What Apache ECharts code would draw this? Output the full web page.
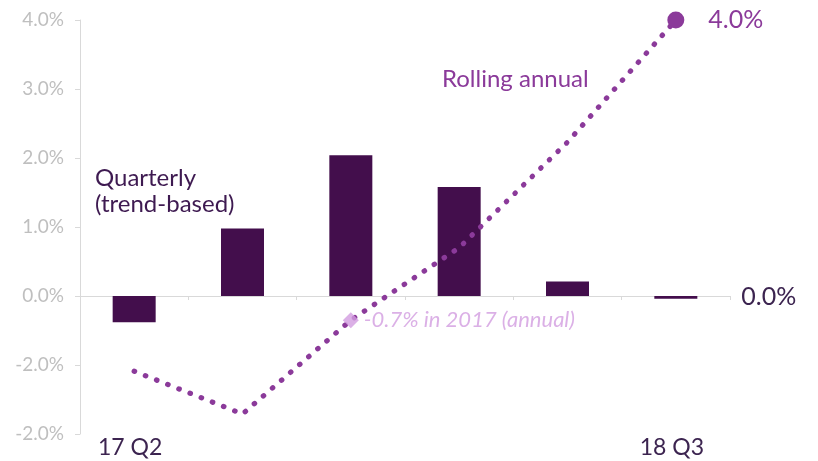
<!DOCTYPE html>
<html><head><meta charset="utf-8">
<script src="https://cdn.jsdelivr.net/npm/echarts@6/dist/echarts.min.js"></script>
<style>html,body{margin:0;padding:0;background:#fff}#c{width:818px;height:461px}</style>
</head><body><div id="c"></div>
<script>
const categories = ['17 Q2', '17 Q3', '17 Q4', '18 Q1', '18 Q2', '18 Q3'];
const xTickLabels = ['17 Q2', '', '', '', '', '18 Q3'];
const quarterlyValues = [-0.38, 0.98, 2.04, 1.58, 0.21, -0.04];
const rollingAnnualValues = [-1.09, -1.71, -0.35, 0.70, 2.23, 4.0];
const annual2017Marker = [['17 Q4', -0.35]];
const annual2017Label = '-0.7% in 2017 (annual)';
const yTickLabels = ['-2.0%', '-2.0%', '0.0%', '1.0%', '2.0%', '3.0%', '4.0%'];
const quarterlyName = 'Quarterly\n(trend-based)';
const rollingName = 'Rolling annual';

const FONT = 'Lato';
const fmtPct = v => (Math.round(v * 10) / 10).toFixed(1) + '%';
const lastQ = quarterlyValues.length - 1;
const lastR = rollingAnnualValues.length - 1;

const chart = echarts.init(document.getElementById('c'), null, {renderer: 'canvas'});
chart.setOption({
  animation: false,
  backgroundColor: '#ffffff',
  textStyle: {fontFamily: FONT},
  grid: {left: 80, right: 88, top: 20, bottom: 27},
  xAxis: [
    {
      type: 'category', data: categories,
      axisLine: {onZero: true, lineStyle: {color: '#D9D9D9', width: 1}},
      axisTick: {show: true, length: 4, lineStyle: {color: '#D9D9D9'}},
      axisLabel: {show: false},
      splitLine: {show: false}
    },
    {
      type: 'category', data: categories, position: 'bottom',
      axisLine: {show: false, onZero: false},
      axisTick: {show: false},
      splitLine: {show: false},
      axisLabel: {
        interval: 0, margin: 2, padding: [0, 8, 0, 0],
        formatter: (v, i) => xTickLabels[i],
        color: '#3C2450', fontSize: 23, fontFamily: FONT
      }
    }
  ],
  yAxis: {
    type: 'value', min: -2, max: 4, interval: 1,
    axisLine: {show: true, lineStyle: {color: '#D9D9D9'}},
    axisTick: {show: true, length: 5, lineStyle: {color: '#D9D9D9'}},
    splitLine: {show: false},
    axisLabel: {
      formatter: v => yTickLabels[Math.round(v) + 2],
      color: '#BFBFBF', fontSize: 19, fontFamily: FONT, margin: 16
    }
  },
  series: [
    {
      type: 'bar', xAxisIndex: 0, barWidth: 43, z: 2,
      itemStyle: {color: '#430E4C'},
      data: quarterlyValues.map((v, i) => i === lastQ ? {
        value: v,
        label: {
          show: true, position: 'right', distance: 44,
          formatter: p => fmtPct(p.value),
          color: '#3C2450', fontSize: 25, fontFamily: FONT
        }
      } : v)
    },
    {
      type: 'line', xAxisIndex: 0, z: 3, symbol: 'none',
      lineStyle: {color: '#8B3A9A', width: 5.2, type: [0.5, 11.5], cap: 'round'},
      itemStyle: {color: '#8B3A9A'},
      data: rollingAnnualValues.map((v, i) => i === lastR ? {
        value: v, symbol: 'circle', symbolSize: 17,
        label: {
          show: true, position: 'right', distance: 24,
          formatter: p => fmtPct(p.value),
          color: '#8B3A9A', fontSize: 25, fontFamily: FONT
        }
      } : v)
    },
    {
      type: 'scatter', xAxisIndex: 0, z: 4,
      symbol: 'diamond', symbolSize: 16,
      itemStyle: {color: '#D29CE0'},
      label: {
        show: true, position: 'right', distance: 5,
        formatter: annual2017Label,
        fontStyle: 'italic', color: '#D29CE0', fontSize: 22, fontFamily: FONT
      },
      data: annual2017Marker
    }
  ],
  graphic: [
    {
      type: 'text', left: 95, top: 165,
      style: {text: quarterlyName, fill: '#3E1A51', font: '24px Lato', lineHeight: 26}
    },
    {
      type: 'text', left: 442, top: 66,
      style: {text: rollingName, fill: '#8B3A9A', font: '24px Lato', lineHeight: 26}
    }
  ]
});
</script>
</body></html>
